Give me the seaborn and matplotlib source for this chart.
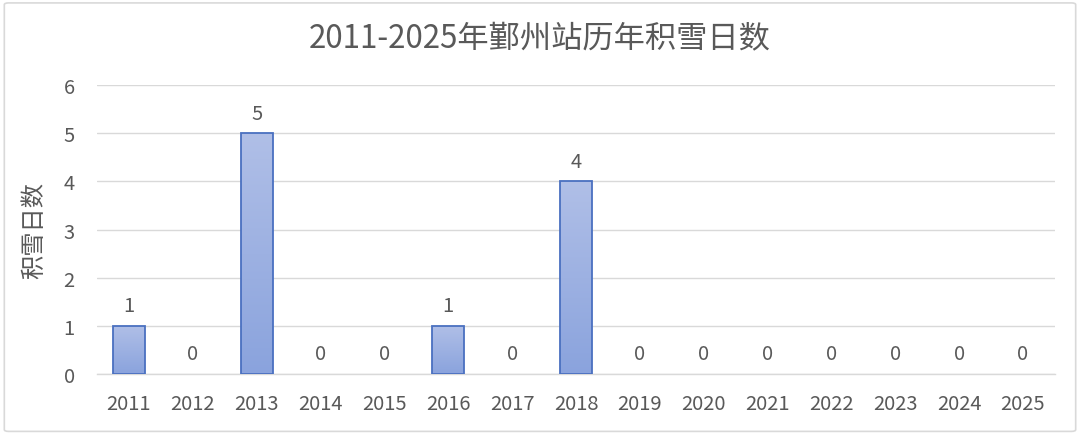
import numpy as np
import pandas as pd
import seaborn as sns
import matplotlib.pyplot as plt
from matplotlib.colors import LinearSegmentedColormap
from matplotlib.patches import FancyBboxPatch

years = [str(y) for y in range(2011, 2026)]
snow_days = [1, 0, 5, 0, 0, 1, 0, 4, 0, 0, 0, 0, 0, 0, 0]

sns.set_style("white")
plt.rcParams['font.family'] = ['Noto Sans CJK SC', 'DejaVu Sans']

df = pd.DataFrame({"year": years, "days": snow_days})

fig = plt.figure(figsize=(10.8, 4.35), dpi=100)
ax = fig.add_axes([0.0898, 0.138, 0.887, 0.664])

sns.barplot(data=df, x="year", y="days", color="#9db0e2", width=0.5,
            edgecolor="#4a70c0", linewidth=1.3, ax=ax, zorder=3)

# gradient fill inside each bar
cmap = LinearSegmentedColormap.from_list("grad", ["#8aa3dd", "#b0bfe7"])
grad = np.linspace(0, 1, 256).reshape(-1, 1)
for bar in ax.patches:
    h = bar.get_height()
    if h <= 0:
        bar.set_visible(False)
        continue
    x0 = bar.get_x()
    w = bar.get_width()
    im = ax.imshow(grad, cmap=cmap, aspect="auto", origin="lower",
                   extent=[x0, x0 + w, 0, h], zorder=3.5)
    im.set_clip_path(bar)
    bar.set_facecolor("none")
    bar.set_zorder(4)

for i, v in enumerate(snow_days):
    ax.text(i, v + 0.2, str(v), ha="center", va="bottom",
            fontsize=14.5, color="#595959")

ax.set_xlim(-0.5, len(years) - 0.5)
ax.set_ylim(0, 6)
ax.set_yticks(range(7))
ax.yaxis.grid(True, color="#d9d9d9", linewidth=1, zorder=0)
ax.set_axisbelow(True)
for s in ["top", "right", "left"]:
    ax.spines[s].set_visible(False)
ax.spines["bottom"].set_color("#d9d9d9")
ax.spines["bottom"].set_linewidth(1)

# ticks between categories
ax.set_xticks(np.arange(len(years)))
ax.set_xticklabels(years)
ax.set_xticks(np.arange(-0.5, len(years)), minor=True)
ax.tick_params(axis="x", which="major", length=0, pad=14, labelsize=14.5,
               labelcolor="#595959")
ax.tick_params(axis="x", which="minor", length=6, color="#d9d9d9", width=1)
ax.tick_params(axis="y", length=0, pad=16, labelsize=14.5, labelcolor="#595959")

ax.set_xlabel("")
ax.set_ylabel("积雪日数", fontsize=17.5, color="#595959", labelpad=12)

fig.text(0.5, 0.912, "2011-2025年鄞州站历年积雪日数", ha="center", va="center",
         fontsize=22.5, color="#595959")

border = FancyBboxPatch((0.004, 0.006), 0.992, 0.985, transform=fig.transFigure,
                        boxstyle="round,pad=0,rounding_size=0.004",
                        fill=False, edgecolor="#d9d9d9", linewidth=1.2)
fig.patches.append(border)

fig.savefig("out.png", dpi=100)
